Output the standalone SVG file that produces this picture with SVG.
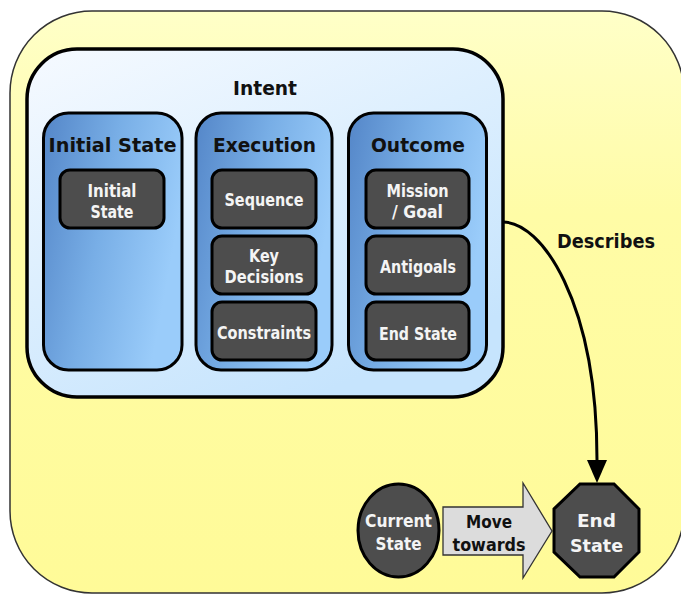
<svg xmlns="http://www.w3.org/2000/svg" width="681" height="595" viewBox="0 0 681 595">
  <defs>
    <linearGradient id="yellowFill" x1="0" y1="0" x2="0" y2="1">
      <stop offset="0" stop-color="#FFFFC8"/>
      <stop offset="0.35" stop-color="#FFFCA6"/>
      <stop offset="1" stop-color="#FFFB98"/>
    </linearGradient>
    <linearGradient id="intentFill" x1="0" y1="0" x2="0.6" y2="1">
      <stop offset="0" stop-color="#F6FAFF"/>
      <stop offset="0.5" stop-color="#DDEFFE"/>
      <stop offset="1" stop-color="#C6E4FD"/>
    </linearGradient>
    <linearGradient id="columnFill" x1="0" y1="0" x2="1" y2="0.35">
      <stop offset="0" stop-color="#5486C8"/>
      <stop offset="0.5" stop-color="#78AEE6"/>
      <stop offset="1" stop-color="#9ACCFA"/>
    </linearGradient>
    <marker id="arrowHead" markerUnits="userSpaceOnUse" viewBox="0 -11 23 22" refX="0" refY="0" markerWidth="23" markerHeight="22" orient="auto">
      <path d="M0,-10 L23,0 L0,10 Z" fill="#000"/>
    </marker>
    <style>
      .title { font-family: "DejaVu Sans", Verdana, sans-serif; font-weight: bold; font-size: 20px; fill: #111; text-anchor: middle; }
      .item { font-family: "DejaVu Sans", Verdana, sans-serif; font-weight: bold; font-size: 17px; fill: #F4F4F4; text-anchor: middle; }
      .big { font-family: "DejaVu Sans", Verdana, sans-serif; font-weight: bold; font-size: 18px; text-anchor: middle; }
      .column { fill: url(#columnFill); stroke: #000; stroke-width: 3; }
      .box { fill: #4D4D4D; stroke: #000; stroke-width: 3; }
      .dark { fill: #4D4D4D; stroke: #000; stroke-width: 3; }
    </style>
  </defs>

  <!-- outer frame -->
  <rect id="frame" x="10" y="11" width="674" height="582" rx="82" ry="82" fill="url(#yellowFill)" stroke="#333" stroke-width="1.5"/>

  <!-- Intent container -->
  <g id="intent">
    <rect x="27" y="49" width="476" height="348" rx="50" ry="50" fill="url(#intentFill)" stroke="#000" stroke-width="3.5"/>
    <text class="title" x="265" y="95" textLength="64" lengthAdjust="spacingAndGlyphs">Intent</text>
  </g>

  <!-- Initial State column -->
  <g id="col-initial">
    <rect class="column" x="43.5" y="113" width="138.5" height="257" rx="25" ry="25"/>
    <text class="title" x="112.5" y="152" textLength="128" lengthAdjust="spacingAndGlyphs">Initial State</text>
  </g>
  <g id="initial-state">
    <rect class="box" x="60" y="170" width="104" height="58" rx="10" ry="10"/>
    <text class="item" x="112" y="197" textLength="49" lengthAdjust="spacingAndGlyphs">Initial</text>
    <text class="item" x="112" y="218" textLength="43" lengthAdjust="spacingAndGlyphs">State</text>
  </g>

  <!-- Execution column -->
  <g id="col-execution">
    <rect class="column" x="196" y="113" width="136" height="257" rx="25" ry="25"/>
    <text class="title" x="264.5" y="152" textLength="103" lengthAdjust="spacingAndGlyphs">Execution</text>
  </g>
  <g id="sequence">
    <rect class="box" x="212" y="170" width="104" height="58" rx="10" ry="10"/>
    <text class="item" x="264" y="206" textLength="79" lengthAdjust="spacingAndGlyphs">Sequence</text>
  </g>
  <g id="key-decisions">
    <rect class="box" x="212" y="236" width="104" height="58" rx="10" ry="10"/>
    <text class="item" x="264" y="262" textLength="30" lengthAdjust="spacingAndGlyphs">Key</text>
    <text class="item" x="264" y="283" textLength="79" lengthAdjust="spacingAndGlyphs">Decisions</text>
  </g>
  <g id="constraints">
    <rect class="box" x="212" y="302" width="104" height="58" rx="10" ry="10"/>
    <text class="item" x="264" y="339" textLength="94" lengthAdjust="spacingAndGlyphs">Constraints</text>
  </g>

  <!-- Outcome column -->
  <g id="col-outcome">
    <rect class="column" x="348.5" y="113" width="138" height="257" rx="25" ry="25"/>
    <text class="title" x="418" y="152" textLength="94" lengthAdjust="spacingAndGlyphs">Outcome</text>
  </g>
  <g id="mission-goal">
    <rect class="box" x="366" y="170" width="103" height="58" rx="10" ry="10"/>
    <text class="item" x="417.5" y="197" textLength="62" lengthAdjust="spacingAndGlyphs">Mission</text>
    <text class="item" x="417.5" y="218" textLength="51" lengthAdjust="spacingAndGlyphs">/ Goal</text>
  </g>
  <g id="antigoals">
    <rect class="box" x="366" y="236" width="103" height="58" rx="10" ry="10"/>
    <text class="item" x="418" y="273" textLength="76" lengthAdjust="spacingAndGlyphs">Antigoals</text>
  </g>
  <g id="end-state-item">
    <rect class="box" x="366" y="302" width="103" height="58" rx="10" ry="10"/>
    <text class="item" x="418" y="340" textLength="78" lengthAdjust="spacingAndGlyphs">End State</text>
  </g>

  <!-- connectors -->
  <g id="connectors">
    <path d="M503,222 C541,222 597,300 597,460" fill="none" stroke="#000" stroke-width="3" marker-end="url(#arrowHead)"/>
    <text class="title" x="606" y="248" textLength="98" lengthAdjust="spacingAndGlyphs">Describes</text>
    <g id="move-towards">
      <polygon points="443,507 523,507 523,483 552,531 523,578 523,555 443,555" fill="#DCDCDC" stroke="#333" stroke-width="1.3"/>
      <text class="big" x="489" y="528" fill="#111" textLength="46" lengthAdjust="spacingAndGlyphs">Move</text>
      <text class="big" x="489" y="551" fill="#111" textLength="73" lengthAdjust="spacingAndGlyphs">towards</text>
    </g>
  </g>

  <!-- state markers -->
  <g id="current-state">
    <ellipse class="dark" cx="398.5" cy="530.5" rx="40.5" ry="46.5"/>
    <text class="big" x="398.5" y="527" fill="#F4F4F4" textLength="67" lengthAdjust="spacingAndGlyphs">Current</text>
    <text class="big" x="398.5" y="550" fill="#F4F4F4" textLength="46" lengthAdjust="spacingAndGlyphs">State</text>
  </g>
  <g id="end-state">
    <polygon class="dark" points="580,484 614,484 639,509 639,552 614,577 580,577 554,552 554,509"/>
    <text class="big" x="596.5" y="527" fill="#F4F4F4" font-size="21" textLength="39" lengthAdjust="spacingAndGlyphs">End</text>
    <text class="big" x="596.5" y="552" fill="#F4F4F4" font-size="21" textLength="53" lengthAdjust="spacingAndGlyphs">State</text>
  </g>
</svg>
